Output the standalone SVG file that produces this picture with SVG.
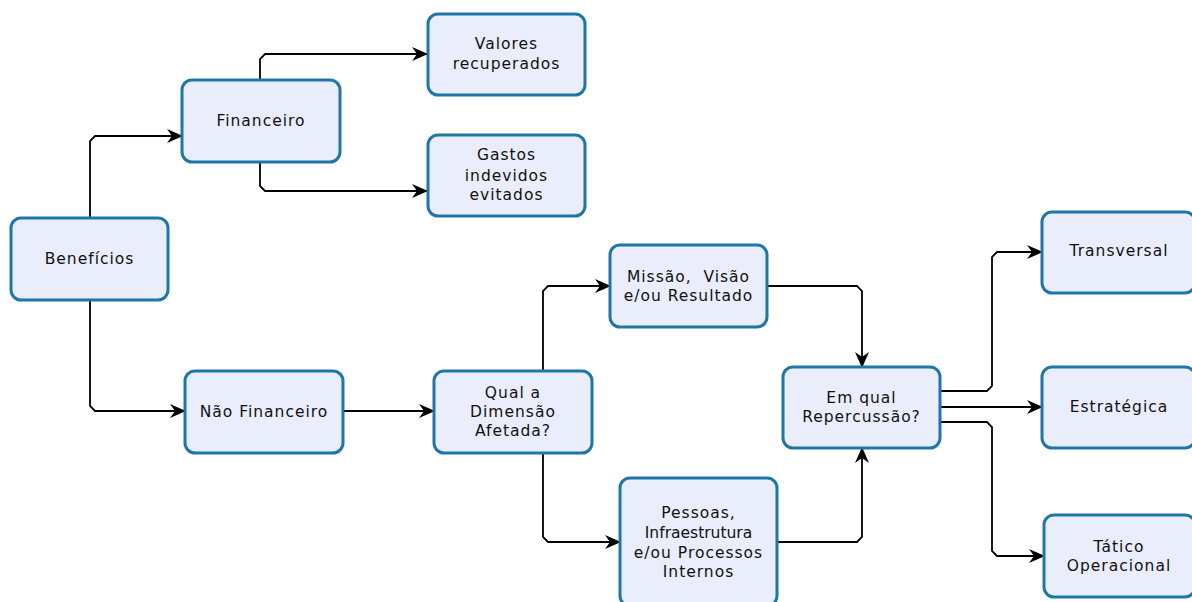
<svg xmlns="http://www.w3.org/2000/svg" width="1192" height="602" viewBox="0 0 1192 602">
<defs>
<marker id="arr" markerWidth="16" markerHeight="14" refX="15" refY="7" orient="auto" markerUnits="userSpaceOnUse">
<path d="M0,0 L16,7 L0,14 L5,7 Z" fill="#000"/>
</marker>
<style>
.box{fill:#E9EDFC;stroke:#1F77A6;stroke-width:3}
.t{font-family:"DejaVu Sans",Verdana,sans-serif;font-size:15.5px;fill:#111;text-anchor:middle;letter-spacing:1px}
.c{fill:none;stroke:#000;stroke-width:1.8;marker-end:url(#arr)}
</style>
</defs>
<rect width="1192" height="602" fill="#fff"/>
<g id="connectors">
<path class="c" d="M90,217 V141 L95,136 H182"/>
<path class="c" d="M90,300 V406 L95,411 H185"/>
<path class="c" d="M260,80 V59 L265,54 H427"/>
<path class="c" d="M260,162 V186 L265,191 H427"/>
<path class="c" d="M343,411 H434"/>
<path class="c" d="M543,371 V291 L548,286 H610"/>
<path class="c" d="M543,453 V537 L548,542 H620"/>
<path class="c" d="M767,286 H857 L862,291 V367"/>
<path class="c" d="M777,542 H857 L862,537 V448"/>
<path class="c" d="M940,391 H987 L992,386 V257 L997,252 H1042"/>
<path class="c" d="M940,407 H1042"/>
<path class="c" d="M940,422 H987 L992,427 V551 L997,556 H1044"/>
</g>
<g id="beneficios"><rect class="box" x="11" y="218" width="157" height="82" rx="10"/><text class="t" x="89.5" y="264">Benefícios</text></g>
<g id="financeiro"><rect class="box" x="182" y="80" width="158" height="82" rx="10"/><text class="t" x="261" y="126">Financeiro</text></g>
<g id="valores"><rect class="box" x="428" y="14" width="157" height="81" rx="10"/><text class="t" x="506.5" y="49">Valores</text><text class="t" x="506.5" y="69">recuperados</text></g>
<g id="gastos"><rect class="box" x="428" y="135" width="157" height="81" rx="10"/><text class="t" x="506.5" y="160">Gastos</text><text class="t" x="506.5" y="181">indevidos</text><text class="t" x="506.5" y="200">evitados</text></g>
<g id="nao-financeiro"><rect class="box" x="185" y="371" width="158" height="82" rx="10"/><text class="t" x="264" y="417">Não Financeiro</text></g>
<g id="qual-dimensao"><rect class="box" x="434" y="371" width="158" height="82" rx="10"/><text class="t" x="513" y="398">Qual a</text><text class="t" x="513" y="417">Dimensão</text><text class="t" x="513" y="436">Afetada?</text></g>
<g id="missao"><rect class="box" x="610" y="245" width="157" height="82" rx="10"/><text class="t" x="688.5" y="282" xml:space="preserve">Missão,  Visão</text><text class="t" x="688.5" y="301">e/ou Resultado</text></g>
<g id="pessoas"><rect class="box" x="620" y="478" width="157" height="128" rx="10"/><text class="t" x="698.5" y="518">Pessoas,</text><text class="t" x="698.5" y="538" style="letter-spacing:0px">Infraestrutura</text><text class="t" x="698.5" y="558">e/ou Processos</text><text class="t" x="698.5" y="577">Internos</text></g>
<g id="em-qual"><rect class="box" x="783" y="367" width="157" height="81" rx="10"/><text class="t" x="861.5" y="403">Em qual</text><text class="t" x="861.5" y="422">Repercussão?</text></g>
<g id="transversal"><rect class="box" x="1042" y="212" width="153" height="81" rx="10"/><text class="t" x="1119" y="256">Transversal</text></g>
<g id="estrategica"><rect class="box" x="1042" y="367" width="153" height="81" rx="10"/><text class="t" x="1119" y="412">Estratégica</text></g>
<g id="tatico"><rect class="box" x="1044" y="515" width="151" height="82" rx="10"/><text class="t" x="1119" y="552">Tático</text><text class="t" x="1119" y="571">Operacional</text></g>
</svg>
